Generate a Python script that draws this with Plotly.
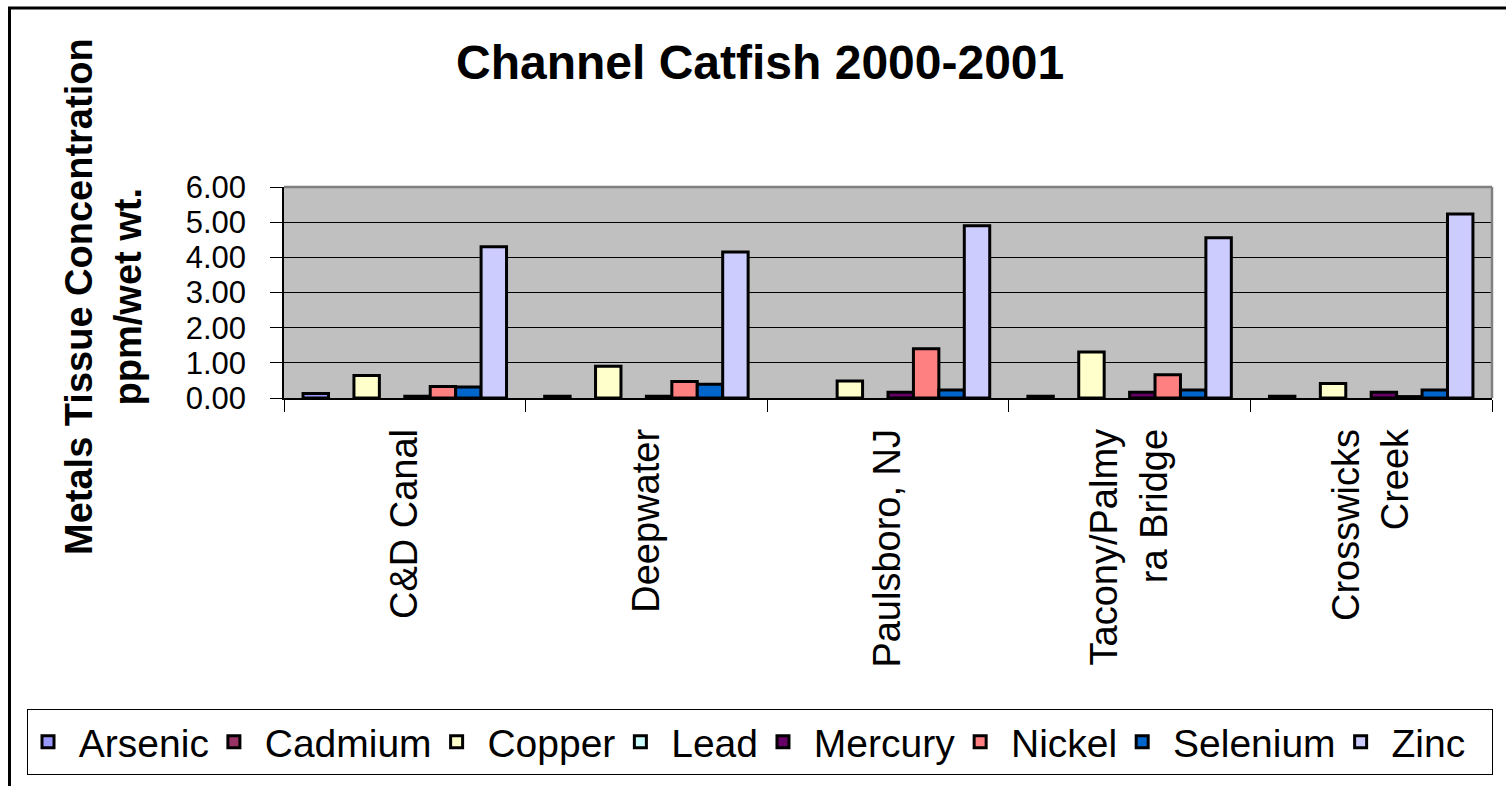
import plotly.graph_objects as go

# ---- data ----
sites = ["C&D Canal", "Deepwater", "Paulsboro, NJ", "Tacony/Palmy<br>ra Bridge", "Crosswicks<br>Creek"]
metals = ["Arsenic", "Cadmium", "Copper", "Lead", "Mercury", "Nickel", "Selenium", "Zinc"]

arsenic = [0.13, 0.05, None, 0.05, 0.05]
cadmium = [None, None, None, None, None]
copper = [0.64, 0.90, 0.48, 1.31, 0.41]
lead = [None, None, None, None, None]
mercury = [0.05, 0.05, 0.16, 0.16, 0.16]
nickel = [0.33, 0.47, 1.40, 0.66, 0.04]
selenium = [0.31, 0.39, 0.23, 0.23, 0.23]
zinc = [4.30, 4.15, 4.90, 4.56, 5.23]

series = [arsenic, cadmium, copper, lead, mercury, nickel, selenium, zinc]
colors = ["#9999FF", "#993366", "#FFFFCC", "#CCFFFF", "#660066", "#FF8080", "#0066CC", "#CCCCFF"]

y_ticks = [0, 1, 2, 3, 4, 5, 6]

# ---- layout geometry (pixels) ----
W, H = 1506, 786
L, R, T, B = 284, 1492, 187, 398
PW, PH = R - L, B - T


def px_x(x):
    return (x - L) / PW


def px_y(y):
    return (B - y) / PH


FONT = "Arial, Liberation Sans, sans-serif"

fig = go.Figure()
for i, (name, vals, col) in enumerate(zip(metals, series, colors)):
    label = "\u00a0" + name + ("\u00a0\u00a0" if i == len(metals) - 1 else "")
    fig.add_trace(go.Bar(
        name=label, x=sites, y=vals,
        marker=dict(color=col, line=dict(color="black", width=3)),
    ))

fig.update_layout(
    width=W, height=H,
    margin=dict(l=L, r=W - R, t=T, b=H - B, pad=0, autoexpand=False),
    paper_bgcolor="white",
    plot_bgcolor="#C0C0C0",
    barmode="group",
    bargap=1.5 / 9.5,
    bargroupgap=0,
    font=dict(family=FONT, size=38, color="black"),
    showlegend=True,
    legend=dict(
        orientation="h",
        x=px_x(27), y=px_y(709),
        xanchor="left", yanchor="top",
        bordercolor="black", borderwidth=1, bgcolor="white",
        font=dict(family=FONT, size=39, color="black"),
        traceorder="normal",
        itemwidth=30,
    ),
    xaxis=dict(
        type="category",
        showline=True, linecolor="black", linewidth=1.5,
        ticks="outside", ticklen=12, tickcolor="black", tickwidth=1,
        tickson="boundaries",
        tickangle=-90,
        ticklabelstandoff=14,
        tickfont=dict(family=FONT, size=38, color="black"),
        showgrid=False, zeroline=False,
    ),
    yaxis=dict(
        range=[0, 6],
        tickvals=y_ticks,
        tickformat=".2f",
        showline=True, linecolor="black", linewidth=1.5,
        ticks="outside", ticklen=12, tickcolor="black", tickwidth=1,
        ticklabelstandoff=18,
        tickfont=dict(family=FONT, size=31, color="black"),
        showgrid=True, gridcolor="black", gridwidth=1,
        zeroline=False,
    ),
    annotations=[
        dict(text="<b>Channel Catfish 2000-2001</b>", xref="paper", yref="paper",
             x=px_x(760), y=px_y(63), xanchor="center", yanchor="middle",
             showarrow=False, font=dict(family=FONT, size=48, color="black")),
        dict(text="<b>Metals Tissue Concentration<br>ppm/wet wt.</b>", xref="paper", yref="paper",
             x=px_x(103), y=px_y(297), xanchor="center", yanchor="middle",
             textangle=-90, showarrow=False,
             font=dict(family=FONT, size=38, color="black")),
    ],
    shapes=[
        # plot-area border top and right (gray)
        dict(type="line", xref="paper", yref="paper", x0=0, x1=1, y0=1, y1=1,
             line=dict(color="#808080", width=2.5), layer="above"),
        dict(type="line", xref="paper", yref="paper", x0=1, x1=1, y0=0, y1=1,
             line=dict(color="#808080", width=2.5), layer="above"),
        # chart outer frame (right/bottom edges lie outside the picture)
        dict(type="rect", xref="paper", yref="paper",
             x0=px_x(9.5), x1=px_x(1650), y0=px_y(8), y1=px_y(900),
             line=dict(color="black", width=3), fillcolor="rgba(0,0,0,0)", layer="above"),
    ],
)

fig.write_html(
    "out.html",
    config={"displayModeBar": False},
    post_script="document.body.style.margin='0';document.body.style.overflow='hidden';",
)
